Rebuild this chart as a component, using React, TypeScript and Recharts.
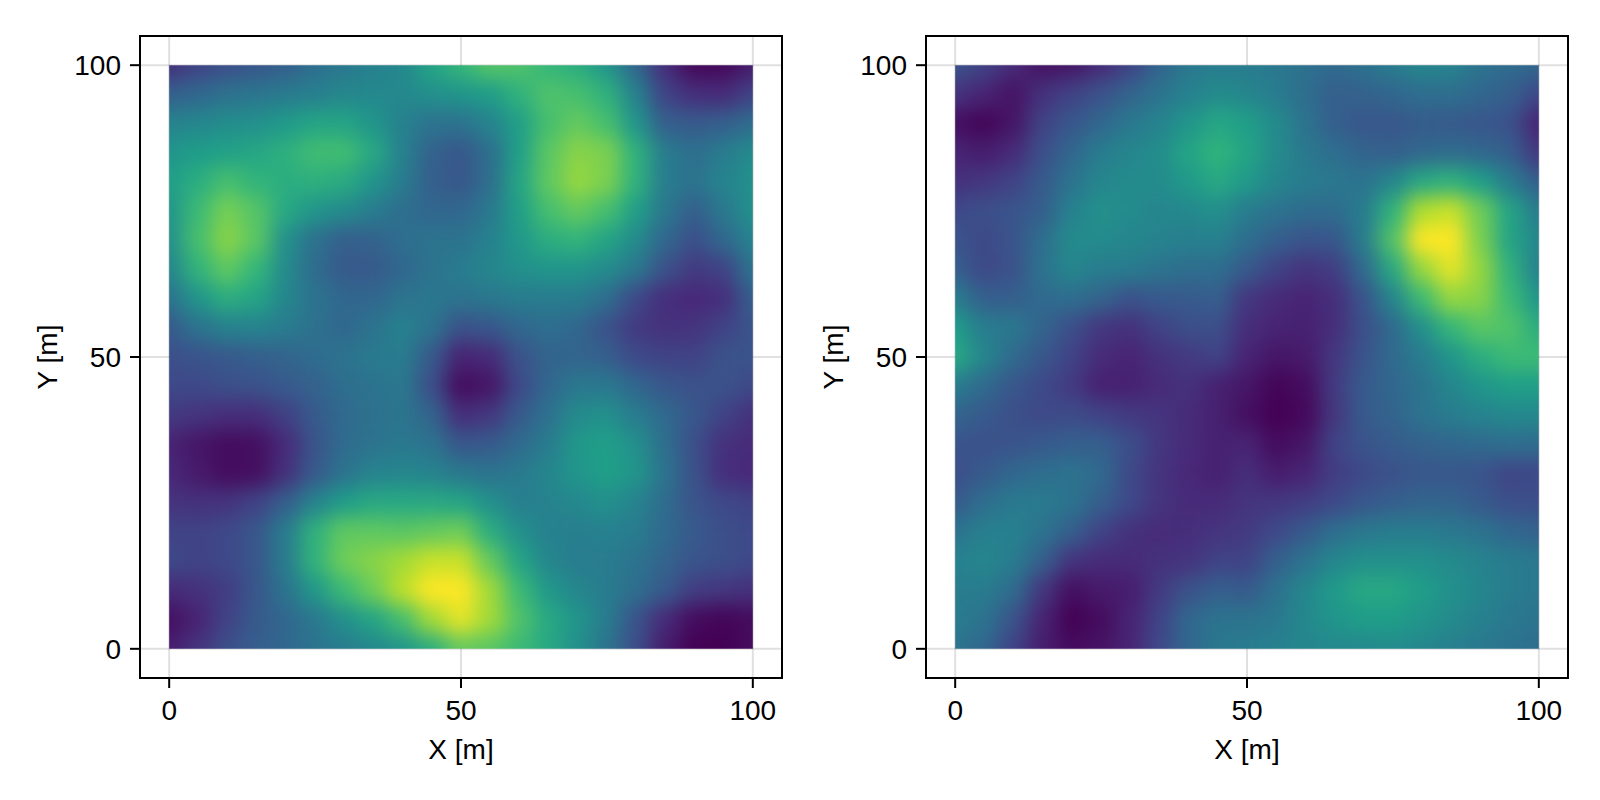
import { CartesianGrid, ReferenceArea, Scatter, ScatterChart, XAxis, YAxis } from "recharts";

const xCoords = [0, 5, 10, 15, 20, 25, 30, 35, 40, 45, 50, 55, 60, 65, 70, 75, 80, 85, 90, 95, 100];
const yCoords = [100, 95, 90, 85, 80, 75, 70, 65, 60, 55, 50, 45, 40, 35, 30, 25, 20, 15, 10, 5, 0];
const axisTicks = [0, 50, 100];

// field values 0..1, rows run from y=100 down to y=0
const leftField = [
  [.14, .20, .24, .27, .30, .36, .40, .44, .47, .58, .66, .73, .72, .66, .62, .52, .33, .13, .02, .02, .08],
  [.30, .33, .37, .39, .41, .43, .46, .47, .47, .50, .52, .55, .64, .72, .70, .64, .44, .20, .13, .12, .20],
  [.45, .46, .49, .50, .54, .58, .58, .52, .44, .38, .38, .45, .56, .70, .76, .70, .52, .30, .28, .30, .35],
  [.52, .55, .57, .59, .63, .69, .69, .60, .44, .31, .27, .36, .56, .74, .82, .80, .64, .42, .36, .42, .48],
  [.56, .62, .70, .65, .62, .63, .61, .52, .42, .30, .27, .36, .58, .75, .84, .80, .64, .42, .38, .45, .50],
  [.52, .68, .79, .73, .60, .52, .48, .42, .36, .33, .33, .40, .56, .70, .76, .70, .56, .40, .30, .40, .50],
  [.50, .70, .82, .74, .50, .37, .30, .31, .36, .38, .38, .44, .53, .62, .65, .58, .48, .33, .24, .33, .45],
  [.46, .65, .75, .66, .48, .35, .28, .28, .33, .38, .42, .46, .50, .52, .52, .48, .40, .25, .17, .20, .38],
  [.38, .52, .62, .58, .46, .38, .33, .33, .38, .40, .38, .40, .42, .42, .42, .36, .22, .13, .11, .13, .30],
  [.28, .38, .44, .45, .42, .37, .33, .38, .44, .38, .25, .27, .33, .36, .33, .25, .17, .14, .15, .20, .26],
  [.24, .26, .28, .30, .32, .35, .38, .41, .42, .28, .10, .12, .25, .32, .32, .30, .22, .20, .20, .25, .26],
  [.22, .22, .24, .25, .28, .31, .36, .38, .40, .24, .03, .06, .22, .33, .40, .40, .33, .27, .25, .25, .22],
  [.17, .15, .13, .13, .19, .28, .34, .37, .39, .32, .13, .16, .28, .37, .48, .50, .42, .34, .27, .20, .14],
  [.10, .06, .03, .04, .12, .26, .35, .38, .40, .38, .27, .28, .34, .42, .53, .56, .50, .36, .24, .14, .12],
  [.11, .07, .03, .04, .14, .28, .38, .45, .46, .45, .40, .38, .41, .46, .52, .56, .52, .38, .25, .13, .11],
  [.15, .14, .15, .20, .30, .45, .55, .60, .60, .60, .58, .50, .43, .45, .47, .50, .45, .35, .26, .22, .20],
  [.20, .20, .22, .27, .42, .64, .75, .75, .74, .76, .78, .62, .50, .44, .43, .44, .42, .34, .28, .24, .22],
  [.22, .20, .22, .27, .42, .65, .78, .82, .86, .92, .92, .76, .58, .46, .42, .42, .38, .32, .26, .24, .22],
  [.12, .14, .18, .27, .38, .53, .68, .78, .90, 1.0, 1.0, .86, .68, .53, .46, .42, .36, .28, .18, .16, .14],
  [.04, .10, .20, .28, .33, .40, .50, .58, .70, .86, .96, .86, .72, .60, .52, .42, .26, .12, .03, .01, .03],
  [.08, .15, .24, .30, .33, .38, .42, .47, .52, .62, .76, .74, .68, .60, .50, .38, .24, .08, .00, .00, .03],
];

const rightField = [
  [.26, .20, .12, .05, .06, .12, .20, .32, .40, .42, .42, .40, .37, .34, .37, .42, .46, .45, .38, .35, .33],
  [.15, .10, .05, .14, .20, .25, .32, .38, .44, .48, .46, .42, .36, .30, .31, .33, .36, .36, .33, .30, .22],
  [.04, .01, .06, .20, .27, .33, .40, .45, .52, .59, .56, .48, .38, .30, .27, .27, .29, .28, .27, .25, .10],
  [.10, .08, .12, .24, .33, .42, .46, .49, .58, .65, .58, .48, .40, .36, .32, .30, .33, .35, .33, .30, .16],
  [.14, .16, .20, .28, .38, .46, .48, .48, .54, .60, .54, .46, .42, .40, .38, .46, .60, .64, .56, .42, .30],
  [.22, .24, .26, .30, .44, .50, .48, .46, .47, .50, .42, .38, .35, .35, .42, .64, .88, .92, .78, .58, .42],
  [.26, .22, .26, .36, .48, .48, .46, .45, .43, .44, .36, .30, .26, .27, .42, .72, 1.0, 1.0, .80, .58, .46],
  [.30, .22, .25, .38, .46, .42, .42, .38, .36, .36, .28, .20, .15, .18, .34, .60, .84, .96, .84, .64, .44],
  [.42, .30, .30, .34, .36, .32, .25, .28, .28, .30, .16, .12, .10, .13, .26, .46, .68, .84, .82, .68, .52],
  [.55, .42, .40, .32, .24, .16, .14, .20, .24, .24, .13, .10, .09, .13, .24, .34, .50, .66, .74, .72, .62],
  [.60, .46, .34, .27, .20, .12, .10, .14, .17, .20, .10, .06, .07, .16, .26, .34, .42, .52, .62, .68, .68],
  [.42, .34, .27, .22, .17, .09, .09, .12, .14, .09, .06, .01, .03, .17, .28, .33, .38, .46, .52, .56, .56],
  [.32, .28, .24, .22, .23, .20, .17, .15, .12, .09, .04, .00, .02, .16, .28, .32, .38, .42, .45, .47, .47],
  [.26, .25, .26, .28, .30, .30, .24, .16, .12, .09, .10, .03, .06, .20, .26, .29, .31, .33, .34, .36, .35],
  [.24, .28, .33, .36, .38, .34, .22, .15, .11, .09, .13, .08, .10, .18, .22, .25, .27, .27, .26, .21, .22],
  [.28, .36, .41, .41, .38, .30, .22, .15, .12, .12, .15, .16, .18, .22, .27, .30, .32, .32, .28, .24, .24],
  [.38, .43, .44, .38, .30, .20, .14, .12, .13, .15, .17, .22, .28, .36, .40, .42, .42, .40, .38, .33, .31],
  [.44, .46, .42, .30, .15, .12, .12, .14, .15, .20, .20, .30, .38, .46, .50, .50, .50, .48, .45, .42, .40],
  [.42, .42, .35, .16, .04, .07, .08, .17, .25, .30, .28, .37, .46, .54, .60, .60, .55, .50, .46, .42, .40],
  [.42, .38, .26, .10, .00, .03, .10, .20, .33, .38, .38, .40, .47, .52, .55, .55, .52, .48, .44, .40, .38],
  [.38, .33, .20, .08, .03, .05, .10, .22, .33, .40, .42, .44, .46, .47, .47, .48, .46, .43, .40, .38, .36],
];

const viridis = [
  [68, 1, 84], [72, 40, 120], [62, 74, 137], [49, 104, 142], [38, 130, 142],
  [31, 158, 137], [53, 183, 121], [109, 205, 89], [180, 222, 44], [253, 231, 37],
];

const font = "'Liberation Sans', Arial, sans-serif";
const plotSize = 642;
const pxPerUnit = plotSize / 110;
const cellPx = 5 * pxPerUnit;
const top = 36;
const chartH = 800;
const chartW = 800;

function colorOf(v: number) {
  const t = Math.min(Math.max(v, 0), 1) * (viridis.length - 1);
  const i = Math.min(Math.floor(t), viridis.length - 2);
  const f = t - i;
  const c = viridis[i].map((a, k) => Math.round(a + (viridis[i + 1][k] - a) * f));
  return `rgb(${c[0]},${c[1]},${c[2]})`;
}

function HeatCell(props: any) {
  const { cx, cy, payload } = props;
  const half = cellPx / 2 + 0.5;
  // border cells run on past the square so the soft edge stays inside the clip
  const l = payload.x === 0 ? 40 : half;
  const r = payload.x === 100 ? 40 : half;
  const t = payload.y === 100 ? 40 : half;
  const b = payload.y === 0 ? 40 : half;
  return <rect x={cx - l} y={cy - t} width={l + r} height={t + b} fill={colorOf(payload.v)} />;
}

function Panel({ id, rows, left, marginLeft, marginRight }: any) {
  const cells = yCoords.flatMap((y, j) => xCoords.map((x, i) => ({ x, y, v: rows[j][i] })));
  const plotLeft = marginLeft + 60;
  return (
    <div className={id} style={{ position: "absolute", left, top: 0 }}>
      <style>{`.${id} .recharts-scatter { filter: url(#${id}-soft); clip-path: url(#${id}-clip); }`}</style>
      <ScatterChart width={chartW} height={chartH} margin={{ top, right: marginRight, bottom: 62, left: marginLeft }}>
        <defs>
          <filter id={`${id}-soft`} filterUnits="userSpaceOnUse" x={0} y={0} width={chartW} height={chartH} colorInterpolationFilters="sRGB">
            <feGaussianBlur stdDeviation={10} />
          </filter>
          <clipPath id={`${id}-clip`}>
            <rect x={plotLeft + 5 * pxPerUnit} y={top + 5 * pxPerUnit} width={100 * pxPerUnit} height={100 * pxPerUnit} />
          </clipPath>
        </defs>
        <CartesianGrid stroke="rgba(0,0,0,0.12)" strokeWidth={2} />
        <XAxis
          type="number"
          dataKey="x"
          domain={[-5, 105]}
          ticks={axisTicks}
          height={60}
          interval={0}
          axisLine={false}
          tickSize={10}
          tickMargin={12}
          tickLine={{ stroke: "#000", strokeWidth: 2 }}
          tick={{ fill: "#000", fontSize: 28, fontFamily: font }}
          label={{ value: "X [m]", position: "bottom", offset: 1, fill: "#000", fontSize: 28, fontFamily: font }}
        />
        <YAxis
          type="number"
          dataKey="y"
          domain={[-5, 105]}
          ticks={axisTicks}
          width={60}
          interval={0}
          axisLine={false}
          tickSize={10}
          tickMargin={9}
          tickLine={{ stroke: "#000", strokeWidth: 2 }}
          tick={{ fill: "#000", fontSize: 28, fontFamily: font }}
          label={{ value: "Y [m]", angle: -90, position: "left", offset: 33, textAnchor: "middle", fill: "#000", fontSize: 28, fontFamily: font }}
        />
        <Scatter data={cells} shape={HeatCell} isAnimationActive={false} />
        <ReferenceArea x1={-5} x2={105} y1={-5} y2={105} fill="none" stroke="#000" strokeWidth={2} />
      </ScatterChart>
    </div>
  );
}

export default function App() {
  return (
    <div style={{ position: "absolute", left: 0, top: 0, width: 1600, height: 800, background: "#fff" }}>
      <Panel id="panel-a" rows={leftField} left={0} marginLeft={80} marginRight={18} />
      <Panel id="panel-b" rows={rightField} left={800} marginLeft={66} marginRight={32} />
    </div>
  );
}
